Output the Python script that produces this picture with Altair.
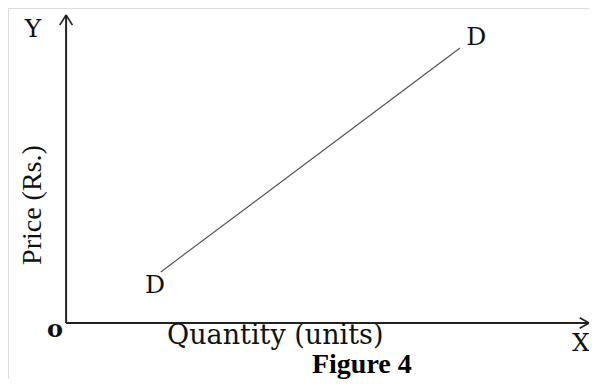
import altair as alt
import pandas as pd

# ---- data (quantity / price units of the schematic) ----
# axes (from origin)
axis_seg_q = [0.0, 0.0]
axis_seg_p = [0.0, 0.0]
axis_seg_q2 = [9.0, 0.0]
axis_seg_p2 = [0.0, 8.8]

# arrow heads: tip -> arm end
arrow_q = [9.0, 9.0, 0.0, 0.0]
arrow_p = [0.0, 0.0, 8.8, 8.8]
arrow_q2 = [8.84, 8.84, -0.11, 0.11]
arrow_p2 = [0.15, -0.15, 8.51, 8.51]

# demand line DD
demand_quantity = [1.63, 6.78]
demand_price = [1.46, 7.86]

# letter labels
letters = ["D", "D", "Y", "X"]
letters_q = [1.53, 7.06, -0.57, 8.86]
letters_p = [0.86, 7.94, 8.17, -0.80]

origin_label = ["o"]
origin_q = [-0.19]
origin_p = [-0.40]

x_title = ["Quantity (units)"]
x_title_q = [3.60]
x_title_p = [-0.60]

y_title = ["Price (Rs.)"]
y_title_q = [-0.43]
y_title_p = [3.37]

fig_title = ["Figure 4"]
fig_q = [5.09]
fig_p = [-1.43]

X_DOMAIN = [-1.0, 9.0]
Y_DOMAIN = [-1.6, 9.0]

xs = alt.Scale(domain=X_DOMAIN, nice=False, zero=False)
ys = alt.Scale(domain=Y_DOMAIN, nice=False, zero=False)


def X(field):
    return alt.X(field, type="quantitative", scale=xs, axis=None)


def Y(field):
    return alt.Y(field, type="quantitative", scale=ys, axis=None)


axes_df = pd.DataFrame({"q": axis_seg_q, "p": axis_seg_p, "q2": axis_seg_q2, "p2": axis_seg_p2})
arrow_df = pd.DataFrame({"q": arrow_q, "p": arrow_p, "q2": arrow_q2, "p2": arrow_p2})
demand_df = pd.DataFrame({"q": demand_quantity, "p": demand_price})
letters_df = pd.DataFrame({"t": letters, "q": letters_q, "p": letters_p})
origin_df = pd.DataFrame({"t": origin_label, "q": origin_q, "p": origin_p})
xt_df = pd.DataFrame({"t": x_title, "q": x_title_q, "p": x_title_p})
yt_df = pd.DataFrame({"t": y_title, "q": y_title_q, "p": y_title_p})
fig_df = pd.DataFrame({"t": fig_title, "q": fig_q, "p": fig_p})

axes = alt.Chart(axes_df).mark_rule(color="#222222", strokeWidth=2).encode(
    x=X("q"), y=Y("p"), x2="q2", y2="p2"
)
arrows = alt.Chart(arrow_df).mark_rule(color="#222222", strokeWidth=1.6).encode(
    x=X("q"), y=Y("p"), x2="q2", y2="p2"
)
demand = alt.Chart(demand_df).mark_line(color="#555555", strokeWidth=1.2).encode(
    x=X("q"), y=Y("p")
)
letter_text = alt.Chart(letters_df).mark_text(
    font="DejaVu Serif", fontSize=25, color="#111111", align="center", baseline="alphabetic"
).encode(x=X("q"), y=Y("p"), text="t:N")
origin_text = alt.Chart(origin_df).mark_text(
    font="DejaVu Serif", fontSize=24, fontWeight="bold", color="#111111", align="center", baseline="alphabetic"
).encode(x=X("q"), y=Y("p"), text="t:N")
xt_text = alt.Chart(xt_df).mark_text(
    font="DejaVu Serif", fontSize=27, color="#111111", align="center", baseline="alphabetic"
).encode(x=X("q"), y=Y("p"), text="t:N")
yt_text = alt.Chart(yt_df).mark_text(
    font="Liberation Serif", fontSize=28, color="#111111", align="center", baseline="alphabetic", angle=270
).encode(x=X("q"), y=Y("p"), text="t:N")
fig_text = alt.Chart(fig_df).mark_text(
    font="Liberation Serif", fontSize=28, fontWeight="bold", color="#000000", align="center", baseline="alphabetic"
).encode(x=X("q"), y=Y("p"), text="t:N")

chart = alt.layer(
    axes, arrows, demand, letter_text, origin_text, xt_text, yt_text, fig_text
).properties(
    width=581, height=371, padding=0, autosize=alt.AutoSizeParams(type="none")
).configure_view(stroke=None).configure(background="white")

chart.save("out.html", embed_options={"renderer": "svg", "actions": False})
